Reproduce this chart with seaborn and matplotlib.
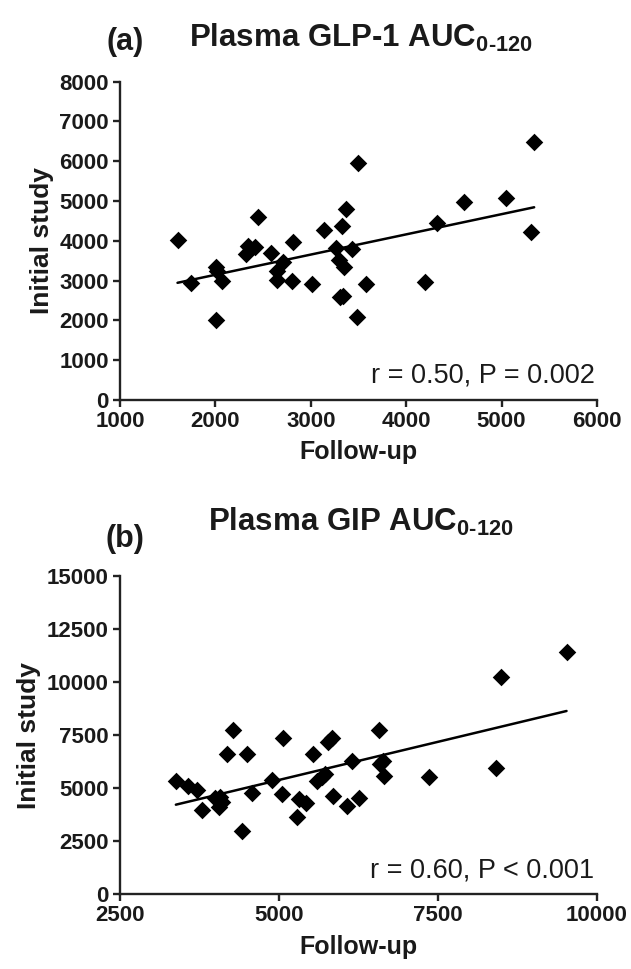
import numpy as np
import pandas as pd
import matplotlib
matplotlib.use("Agg")
import matplotlib.pyplot as plt
import seaborn as sns

# Panel (a): plasma GLP-1 AUC0-120, follow-up vs initial study
glp1_followup = [1604, 1741, 2006, 2020, 2069, 2003, 2327, 2345, 2415, 2443,
                 2583, 2705, 2642, 2645, 2799, 2816, 3009, 3141, 3264, 3298,
                 3348, 3323, 3368, 3428, 3306, 3340, 3498, 3481, 3578, 4200,
                 4325, 4608, 5045, 5314, 5342]
glp1_initial = [4013, 2948, 3334, 3250, 2999, 2010, 3669, 3878, 3853, 4599,
                3686, 3476, 3250, 3016, 2991, 3979, 2907, 4264, 3811, 3518,
                3350, 4381, 4800, 3795, 2596, 2614, 5948, 2078, 2915, 2974,
                4456, 4984, 5085, 4214, 6492]

# Panel (b): plasma GIP AUC0-120
gip_followup = [3380, 3564, 3705, 3784, 3993, 4072, 4098, 4061, 4177, 4271,
                4413, 4502, 4570, 4885, 5051, 5058, 5278, 5319, 5419, 5529,
                5602, 5671, 5722, 5775, 5838, 5853, 6073, 6152, 6257, 6571,
                6587, 6639, 6655, 7362, 8421, 8489, 9522]
gip_initial = [5355, 5120, 4917, 3974, 4524, 4572, 4364, 4128, 6598, 7743,
               2998, 6598, 4788, 5387, 4713, 7381, 3629, 4477, 4289, 6598,
               5354, 5543, 5656, 7192, 7352, 4647, 4176, 6297, 4524, 7743,
               6141, 6282, 5590, 5514, 5938, 10227, 11434]

panels = [
    dict(x=glp1_followup, y=glp1_initial, tag="(a)",
         title=r"Plasma GLP-1 AUC$_{\mathbf{0\text{-}120}}$",
         xlim=(1000, 6000), xstep=1000, ylim=(0, 8000), ystep=1000,
         stat="r = 0.50, P = 0.002", tag_y=1.125, title_y=1.137),
    dict(x=gip_followup, y=gip_initial, tag="(b)",
         title=r"Plasma GIP AUC$_{\mathbf{0\text{-}120}}$",
         xlim=(2500, 10000), xstep=2500, ylim=(0, 15000), ystep=2500,
         stat="r = 0.60, P < 0.001", tag_y=1.115, title_y=1.17),
]

sns.set_style("ticks")
plt.rcParams["font.family"] = ["Liberation Sans", "DejaVu Sans"]
plt.rcParams["mathtext.fontset"] = "custom"
plt.rcParams["mathtext.bf"] = "Liberation Sans:bold"
plt.rcParams["mathtext.rm"] = "Liberation Sans:bold"
plt.rcParams["axes.linewidth"] = 1.7

fig = plt.figure(figsize=(6.31, 9.69), dpi=100)
boxes = [[0.190, 0.5872, 0.756, 0.3285], [0.190, 0.0771, 0.756, 0.3285]]

for p, box in zip(panels, boxes):
    ax = fig.add_axes(box)
    df = pd.DataFrame({"Follow-up": p["x"], "Initial study": p["y"]})
    sns.regplot(data=df, x="Follow-up", y="Initial study", ax=ax, ci=None,
                marker="D", color="black",
                scatter_kws=dict(s=80, linewidths=0, alpha=1),
                line_kws=dict(color="black", lw=1.8))
    ax.set_xlim(*p["xlim"])
    ax.set_ylim(*p["ylim"])
    ax.set_xticks(np.arange(p["xlim"][0], p["xlim"][1] + 1, p["xstep"]))
    ax.set_yticks(np.arange(p["ylim"][0], p["ylim"][1] + 1, p["ystep"]))
    ax.tick_params(length=5, width=1.7, labelsize=16, color="#222222",
                   labelcolor="#1a1a1a")
    ax.tick_params(axis="x", pad=3)
    ax.tick_params(axis="y", pad=3)
    for lab in ax.get_xticklabels() + ax.get_yticklabels():
        lab.set_fontweight("bold")
    ax.set_xlabel("Follow-up", fontsize=18, fontweight="bold", labelpad=6,
                  color="#1a1a1a")
    ax.set_ylabel("Initial study", fontsize=19, fontweight="bold", labelpad=4,
                  color="#1a1a1a")
    sns.despine(ax=ax)
    for s in ("left", "bottom"):
        ax.spines[s].set_color("#222222")
    ax.text(0.995, 0.035, p["stat"], transform=ax.transAxes, ha="right",
            va="bottom", fontsize=19.5, color="#1a1a1a")
    ax.text(0.01, p["tag_y"], p["tag"], transform=ax.transAxes, ha="center",
            va="center", fontsize=22, fontweight="bold", color="#1a1a1a")
    ax.text(0.505, p["title_y"], p["title"], transform=ax.transAxes,
            ha="center", va="center", fontsize=22.5, fontweight="bold",
            color="#1a1a1a")

fig.savefig("out.png", dpi=100, facecolor="white")
